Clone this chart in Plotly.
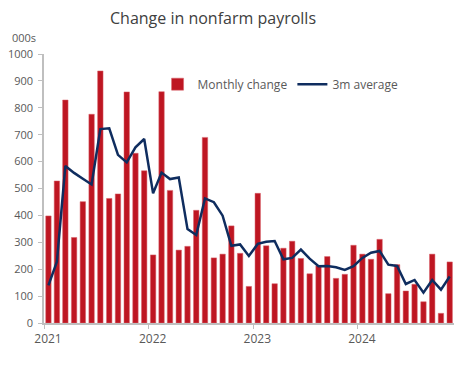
import pandas as pd
import plotly.graph_objects as go

# ---- data ----
months = [d.strftime("%Y-%m-%d") for d in pd.date_range("2021-01-01", "2024-11-01", freq="MS")]

monthly_change = [398, 528, 829, 318, 451, 776, 937, 463, 480, 859, 631, 566,
                  253, 860, 493, 271, 285, 419, 690, 242, 256, 361, 259, 136,
                  482, 287, 146, 278, 304, 240, 183, 212, 247, 166, 181, 289,
                  256, 237, 311, 109, 217, 119, 144, 79, 256, 36, 227]

avg_3m = [140, 228, 584, 558, 536, 515, 721, 724, 625, 597, 653, 684,
          482, 559, 535, 541, 349, 327, 463, 449, 399, 287, 292, 249,
          294, 302, 305, 237, 242, 273, 239, 211, 212, 207, 197, 211,
          242, 261, 268, 217, 212, 145, 160, 113, 160, 124, 173]

year_ticks = ["2021-01-01", "2022-01-01", "2023-01-01", "2024-01-01"]
year_labels = ["2021", "2022", "2023", "2024"]
y_ticks = list(range(0, 1001, 100))

FONT = "Open Sans"
TXT = "#595959"
AX = "#BFBFBF"

# page body has an 8px default margin, so the figure is sized to fit inside it
W, H = 458, 365

fig = go.Figure()
fig.add_trace(go.Bar(
    x=months, y=monthly_change, name="Monthly change",
    xperiod="M1", xperiodalignment="middle",
    marker=dict(color="#BE1622", line=dict(color="#D9606A", width=0.5)),
))
fig.add_trace(go.Scatter(
    x=months, y=avg_3m, name="3m average", mode="lines",
    xperiod="M1", xperiodalignment="middle",
    line=dict(color="#0F2D5F", width=2.5),
))

fig.update_layout(
    width=W, height=H,
    margin=dict(l=36, r=12, t=46, b=50),
    paper_bgcolor="white", plot_bgcolor="white",
    font=dict(family=FONT, size=12, color=TXT),
    bargap=0.36,
    showlegend=True,
    title=dict(text="Change in nonfarm payrolls", x=205 / W, xref="container", xanchor="center",
               y=1 - 10 / H, yref="container", yanchor="middle",
               font=dict(family=FONT, size=16, color="#404040")),
    legend=dict(orientation="h", x=0.277, y=0.888, xanchor="left", yanchor="middle",
                font=dict(family=FONT, size=12, color=TXT), bgcolor="rgba(0,0,0,0)",
                itemwidth=30, tracegroupgap=0),
    annotations=[dict(text="000s", xref="paper", yref="paper", x=-0.083, y=1.062,
                      xanchor="left", yanchor="middle", showarrow=False,
                      font=dict(family=FONT, size=11, color=TXT))],
)
fig.update_xaxes(
    type="date", range=["2021-01-01", "2024-12-01"],
    tickvals=year_ticks, ticktext=year_labels, automargin=False,
    showline=True, linecolor=AX, linewidth=1.5,
    ticks="outside", ticklen=4, tickcolor=AX, ticklabelshift=4,
    showgrid=False, zeroline=False,
    tickfont=dict(family=FONT, size=12, color=TXT),
)
fig.update_yaxes(
    range=[0, 1000], tickvals=y_ticks, automargin=False,
    showline=True, linecolor=AX, linewidth=1.5,
    ticks="outside", ticklen=4, tickcolor=AX, ticklabelstandoff=3,
    showgrid=False, zeroline=False,
    tickfont=dict(family=FONT, size=11, color=TXT),
)

fig.write_html("out.html")
